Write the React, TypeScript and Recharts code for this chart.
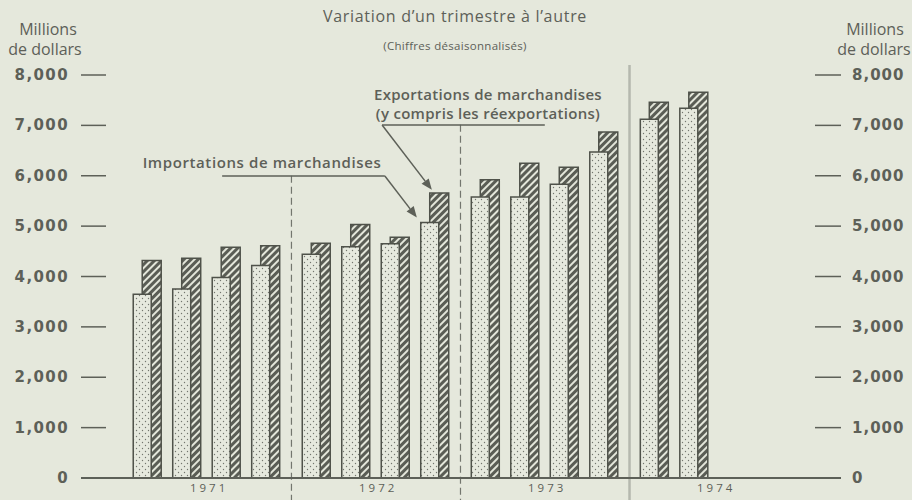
import React from 'react'
import { BarChart, Bar, XAxis, YAxis, ReferenceLine } from 'recharts'

// quarterly values, millions of dollars (seasonally adjusted)
const quarters = [
  '1971-1', '1971-2', '1971-3', '1971-4',
  '1972-1', '1972-2', '1972-3', '1972-4',
  '1973-1', '1973-2', '1973-3', '1973-4',
  '1974-1', '1974-2',
]
const years = ['1971', '1972', '1973', '1974']
const imports = [3650, 3750, 3980, 4220, 4440, 4590, 4650, 5070, 5580, 5580, 5830, 6470, 7120, 7340]
const exports = [4320, 4360, 4580, 4610, 4660, 5030, 4780, 5660, 5920, 6250, 6170, 6870, 7460, 7660]
const yTicks = [0, 1000, 2000, 3000, 4000, 5000, 6000, 7000, 8000]

const INK = '#5d6058'
const BG = '#e5e8dc'
const FONT = '"Open Sans", "DejaVu Sans", sans-serif'
const NUM_FONT = '"DejaVu Sans", sans-serif'

// layout of the quarter positions on a numeric axis: extra gap between years
const YEAR_GAP = 0.28
const pos = (i: number) => i + Math.floor(i / 4) * YEAR_GAP
const X_LO = -1.544
const X_HI = 17.7
const EXP_SHIFT = 0.253

const data = quarters.map((q, i) => ({ q, x: pos(i), imp: imports[i], exp: exports[i] }))
const yearTicks = years.map((_, k) => pos(4 * k) + 1.7)
const dividers = [1, 2, 3].map((k) => pos(4 * k - 1) + 0.785)
const dividerTops = [6000, 7010, 8200]

const fmt = (v: number) => v.toLocaleString('en-US')

const LeftTick = (props: any) => {
  const { x, y, payload } = props
  return (
    <g>
      <text x={x - 12} y={y} dy={5} textAnchor="end" fill={INK} fontSize={15} fontWeight="bold"
        fontFamily={NUM_FONT} letterSpacing={1.4}>{fmt(payload.value)}</text>
      <line x1={x} x2={x + 25} y1={y} y2={y} stroke={INK} strokeWidth={1.5} />
    </g>
  )
}

const RightTick = (props: any) => {
  const { x, y, payload } = props
  return (
    <g>
      <text x={x + 11} y={y} dy={5} textAnchor="start" fill={INK} fontSize={15} fontWeight="bold"
        fontFamily={NUM_FONT} letterSpacing={1}>{fmt(payload.value)}</text>
      <line x1={x - 26} x2={x} y1={y} y2={y} stroke={INK} strokeWidth={1.5} />
    </g>
  )
}

const ArrowLine = (props: any) => {
  const { x1, y1, x2, y2 } = props
  const a = Math.atan2(y2 - y1, x2 - x1)
  const L = 11
  const W = 4.5
  const bx = x2 - L * Math.cos(a)
  const by = y2 - L * Math.sin(a)
  const p1 = `${bx + W * Math.sin(a)},${by - W * Math.cos(a)}`
  const p2 = `${bx - W * Math.sin(a)},${by + W * Math.cos(a)}`
  return (
    <g>
      <line x1={x1} y1={y1} x2={bx} y2={by} stroke={INK} strokeWidth={1.5} />
      <polygon points={`${x2},${y2} ${p1} ${p2}`} fill={INK} />
    </g>
  )
}

export default function App() {
  return (
    <div style={{ width: 912, height: 500, background: BG, position: 'relative' }}>
      <style>{'body{margin:0}'}</style>
      <BarChart width={912} height={500} data={data} margin={{ top: 75, right: 0, bottom: 0, left: 0 }}>
        <defs>
          <pattern id="hatch" width="5" height="5" patternUnits="userSpaceOnUse" patternTransform="rotate(45)">
            <rect width="5" height="5" fill="#5a5d55" />
            <line x1="1" y1="0" x2="1" y2="5" stroke="#e3e6da" strokeWidth="2" />
          </pattern>
          <pattern id="dots" width="6" height="6" patternUnits="userSpaceOnUse">
            <rect width="6" height="6" fill="#e6e9de" />
            <circle cx="1.5" cy="1.5" r="0.7" fill="#73766e" />
            <circle cx="4.5" cy="4.5" r="0.7" fill="#73766e" />
          </pattern>
        </defs>
        <XAxis xAxisId="imp" type="number" dataKey="x" domain={[X_LO, X_HI]} allowDataOverflow
          ticks={yearTicks} interval={0}
          tickFormatter={(v: number) => years[yearTicks.findIndex((t) => Math.abs(t - v) < 0.01)]}
          tickLine={false} tickSize={0} tickMargin={6} height={22}
          axisLine={{ stroke: INK, strokeWidth: 2 }}
          tick={{ fill: INK, fontSize: 11.5, fontFamily: FONT, letterSpacing: 3 }} />
        <XAxis xAxisId="exp" type="number" dataKey="x" hide height={0}
          domain={[X_LO - EXP_SHIFT, X_HI - EXP_SHIFT]} allowDataOverflow ticks={yearTicks} />
        <YAxis yAxisId="left" orientation="left" width={81} domain={[0, 8000]} ticks={yTicks}
          interval={0} axisLine={false} tickLine={false} tickSize={0} tickMargin={0} tick={<LeftTick />} />
        <YAxis yAxisId="right" orientation="right" width={71} domain={[0, 8000]} ticks={yTicks}
          interval={0} axisLine={false} tickLine={false} tickSize={0} tickMargin={0} tick={<RightTick />} />

        {dividers.map((d, k) => (
          <ReferenceLine key={k} xAxisId="imp" yAxisId="left" ifOverflow="visible"
            segment={[{ x: d, y: dividerTops[k] }, { x: d, y: -440 }]}
            stroke={k === 2 ? '#b5b8ae' : '#73766e'} strokeWidth={k === 2 ? 2.5 : 1.2}
            strokeDasharray={k === 2 ? undefined : '7 4'} />
        ))}

        <Bar xAxisId="exp" yAxisId="left" dataKey="exp" barSize={19} fill="url(#hatch)"
          stroke="#4f524a" strokeWidth={1.5} isAnimationActive={false} />
        <Bar xAxisId="imp" yAxisId="right" dataKey="imp" barSize={18} fill="url(#dots)"
          stroke="#4f524a" strokeWidth={1.5} isAnimationActive={false} />

        {/* annotation leaders */}
        <ReferenceLine xAxisId="imp" yAxisId="left" ifOverflow="visible" stroke={INK} strokeWidth={1.5}
          segment={[{ x: 2.03, y: 5995 }, { x: 6.15, y: 5995 }]} />
        <ReferenceLine xAxisId="imp" yAxisId="left" ifOverflow="visible" shape={ArrowLine}
          segment={[{ x: 6.15, y: 5995 }, { x: pos(7) - 0.32, y: imports[7] + 100 }]} />
        <ReferenceLine xAxisId="imp" yAxisId="left" ifOverflow="visible" stroke={INK} strokeWidth={1.5}
          segment={[{ x: 6.08, y: 7008 }, { x: 10.2, y: 7008 }]} />
        <ReferenceLine xAxisId="imp" yAxisId="left" ifOverflow="visible" shape={ArrowLine}
          segment={[{ x: 6.08, y: 7008 }, { x: pos(7) + 0.06, y: exports[7] + 60 }]} />

        <g fontFamily={FONT} fill={INK}>
          <text x={455} y={22} textAnchor="middle" fontSize={16} letterSpacing={0.7}>Variation d’un trimestre à l’autre</text>
          <text x={455} y={50} textAnchor="middle" fontSize={11.5} letterSpacing={0.3}>(Chiffres désaisonnalisés)</text>
          <text x={48} y={35} textAnchor="middle" fontSize={16}>Millions</text>
          <text x={45} y={55} textAnchor="middle" fontSize={16}>de dollars</text>
          <text x={875} y={35} textAnchor="middle" fontSize={16}>Millions</text>
          <text x={874} y={55} textAnchor="middle" fontSize={16}>de dollars</text>
          <text x={262} y={168} textAnchor="middle" fontSize={15} fontWeight={600} letterSpacing={0.6}>Importations de marchandises</text>
          <text x={488} y={100} textAnchor="middle" fontSize={15} fontWeight={600} letterSpacing={0.3}>Exportations de marchandises</text>
          <text x={488} y={119} textAnchor="middle" fontSize={15} fontWeight={600} letterSpacing={0.3}>(y compris les réexportations)</text>
        </g>
      </BarChart>
    </div>
  )
}
